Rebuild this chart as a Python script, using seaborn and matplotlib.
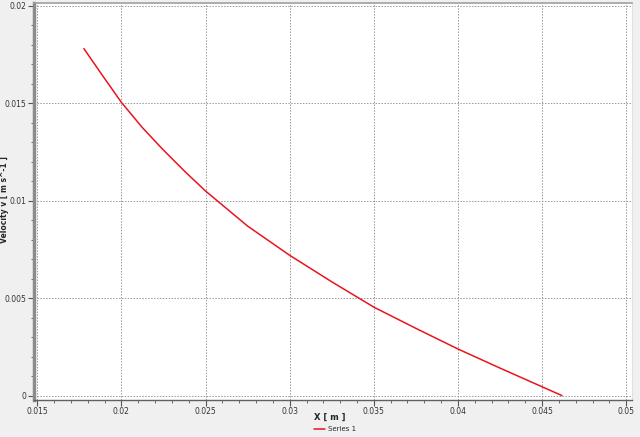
import matplotlib
matplotlib.use("Agg")
import matplotlib.pyplot as plt
from matplotlib.ticker import AutoMinorLocator
import seaborn as sns
import pandas as pd

# values
x_pos = [0.01777, 0.0189, 0.0200, 0.02125, 0.0225, 0.02375, 0.0250,
         0.0275, 0.0300, 0.0325, 0.0350, 0.0375, 0.0400, 0.0425,
         0.0450, 0.04618]
vel_v = [0.01781, 0.01640, 0.01505, 0.01375, 0.01260, 0.01152, 0.01050,
         0.00870, 0.00720, 0.00584, 0.00454, 0.00345, 0.00239, 0.00141,
         0.00045, 0.0]

x_ticks = [0.015, 0.02, 0.025, 0.03, 0.035, 0.04, 0.045, 0.05]
y_ticks = [0, 0.005, 0.01, 0.015, 0.02]

df = pd.DataFrame({"x": x_pos, "v": vel_v, "series": "Series 1"})

sns.set_style("white")
plt.rcParams['font.family'] = ['DejaVu Sans']

fig = plt.figure(figsize=(6.4, 4.37), dpi=100, facecolor="#f0f0f0")
ax = fig.add_axes([0.053, 0.085, 0.935, 0.908])
ax.set_facecolor("white")

sns.lineplot(data=df, x="x", y="v", hue="series", palette=["#e8141e"],
             linewidth=1.1, ax=ax, legend=False, sort=False)

ax.set_xlim(0.0148, 0.05036)
ax.set_ylim(-0.00022, 0.02015)
ax.set_xticks(x_ticks)
ax.set_yticks(y_ticks)
ax.set_xticklabels([f"{t:g}" for t in x_ticks])
ax.set_yticklabels([f"{t:g}" for t in y_ticks])
ax.xaxis.set_minor_locator(AutoMinorLocator(5))
ax.yaxis.set_minor_locator(AutoMinorLocator(5))
ax.tick_params(axis="both", which="major", direction="out", length=4, width=0.8,
               color="#555555", labelsize=5.5, labelcolor="#333333", pad=1.5)
ax.tick_params(axis="both", which="minor", direction="out", length=2, width=0.6,
               color="#555555")
ax.tick_params(axis="x", bottom=True, which="both")
ax.tick_params(axis="y", left=True, which="both")

ax.grid(True, which="major", linestyle=(0, (1.5, 1.5)), color="#999999", linewidth=0.7)

for side in ["left", "top", "bottom", "right"]:
    ax.spines[side].set_visible(True)
ax.spines["left"].set_color("#8c8c8c")
ax.spines["left"].set_linewidth(2.5)
ax.spines["top"].set_color("#a0a0a0")
ax.spines["top"].set_linewidth(1.2)
ax.spines["bottom"].set_color("#606060")
ax.spines["bottom"].set_linewidth(1.0)
ax.spines["right"].set_color("#e0e0e0")
ax.spines["right"].set_linewidth(0.8)

ax.set_xlabel("")
ax.set_ylabel("")
fig.text(330 / 640, 1 - 417 / 437, "X [ m ]", fontsize=6, fontweight="bold",
         ha="center", va="center")
fig.text(4.5 / 640, 1 - 200 / 437, "Velocity v [ m s^-1 ]", fontsize=5.5,
         fontweight="bold", rotation=90, ha="center", va="center")

# legend below the axis title
fig.legend(handles=ax.get_lines()[:1], labels=["Series 1"], loc="center",
           bbox_to_anchor=(335 / 640, 1 - 429 / 437), frameon=False, fontsize=5,
           handlelength=1.6, handletextpad=0.4, borderpad=0, borderaxespad=0)

fig.savefig("out.png", dpi=100, facecolor=fig.get_facecolor())
